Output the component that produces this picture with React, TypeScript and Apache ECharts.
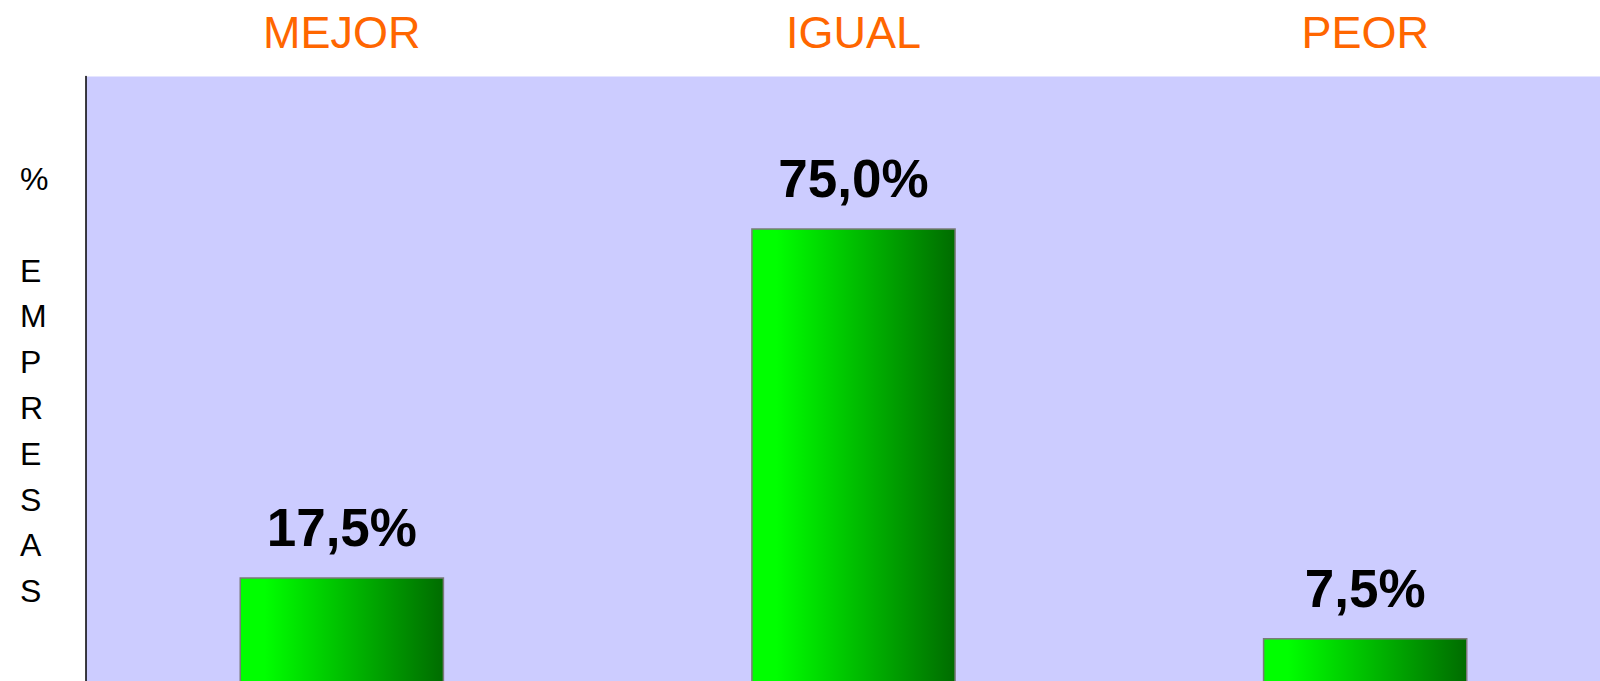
import React, { useEffect, useRef } from "react";
import * as echarts from "echarts";

const categories = ["MEJOR", "IGUAL", "PEOR"];
const values = [17.5, 75.0, 7.5];
const axisTitle = "%\n\nE\nM\nP\nR\nE\nS\nA\nS";

export default function App() {
  const ref = useRef<HTMLDivElement>(null);
  useEffect(() => {
    if (!ref.current) return;
    const chart = echarts.init(ref.current, undefined, { renderer: "svg" });
    chart.setOption({
      animation: false,
      backgroundColor: "#ffffff",
      textStyle: { fontFamily: "Liberation Sans, Arial, sans-serif" },
      grid: {
        left: 86,
        top: 76.5,
        width: 1535,
        height: 607,
        outerBoundsMode: "none",
        containLabel: false,
        show: true,
        backgroundColor: "#ccccff",
        borderWidth: 0,
      },
      xAxis: {
        type: "category",
        position: "top",
        data: categories,
        axisTick: { show: false },
        axisLine: { show: true, lineStyle: { color: "#9a9a9a", width: 1.5 } },
        axisLabel: {
          color: "#ff6600",
          fontSize: 45,
          margin: 22,
          fontFamily: "Liberation Sans, Arial, sans-serif",
        },
        splitLine: { show: false },
      },
      yAxis: {
        type: "value",
        min: 0,
        max: 100,
        axisLine: { show: true, lineStyle: { color: "#000000", width: 1.5 } },
        axisTick: { show: false },
        axisLabel: { show: false },
        splitLine: { show: false },
      },
      graphic: [
        {
          type: "text",
          left: 20,
          top: 156,
          style: {
            text: axisTitle,
            fill: "#000000",
            font: "32px 'Liberation Sans', Arial, sans-serif",
            lineHeight: 45.8,
            align: "center",
            width: 34,
          },
        },
      ],
      series: [
        {
          type: "bar",
          data: values,
          barWidth: "40%",
          itemStyle: {
            color: new echarts.graphic.LinearGradient(0, 0, 1, 0, [
              { offset: 0, color: "#00ff00" },
              { offset: 0.12, color: "#00ff00" },
              { offset: 1, color: "#006c00" },
            ]),
            borderColor: "#7a7a7a",
            borderWidth: 1.5,
          },
          label: {
            show: true,
            position: "top",
            distance: 23,
            color: "#000000",
            fontSize: 53,
            fontWeight: "bold",
            fontFamily: "Liberation Sans, Arial, sans-serif",
            formatter: (p: any) => p.value.toFixed(1).replace(".", ",") + "%",
          },
        },
      ],
    });
    return () => chart.dispose();
  }, []);
  return (
    <div
      ref={ref}
      style={{ position: "fixed", left: 0, top: 0, width: 1600, height: 681 }}
    />
  );
}
